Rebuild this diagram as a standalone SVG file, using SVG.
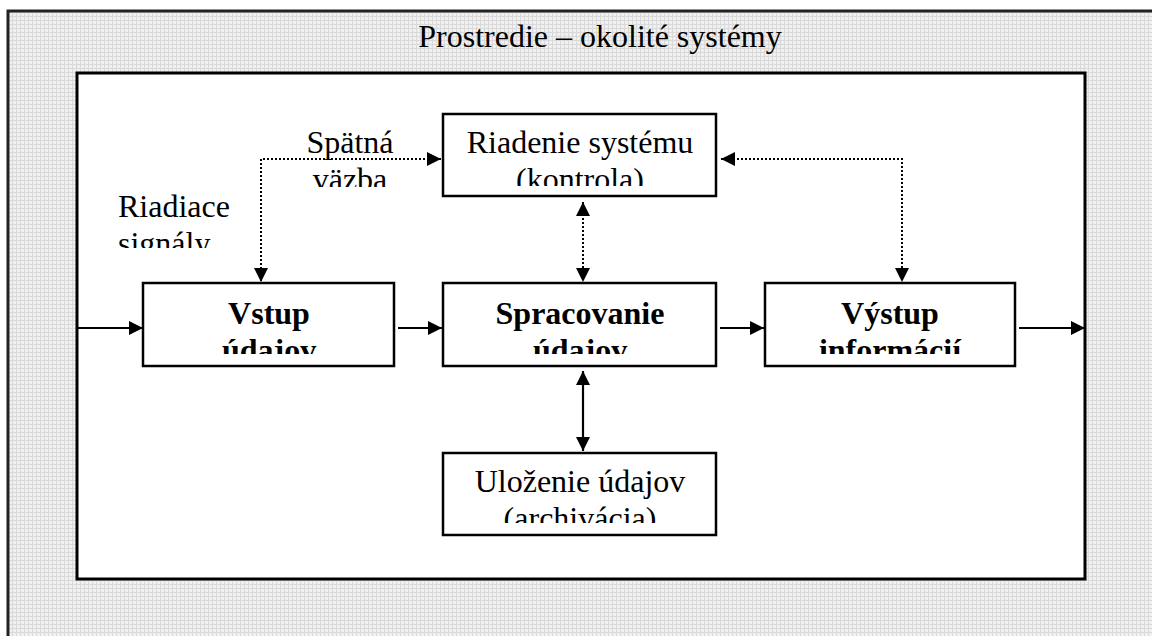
<svg xmlns="http://www.w3.org/2000/svg" width="1152" height="636" viewBox="0 0 1152 636">
<defs>
<pattern id="grid" width="4" height="4" patternUnits="userSpaceOnUse">
<rect width="4" height="4" fill="#eeeeee"/>
<rect x="0" y="0" width="4" height="1" fill="#dadada"/>
<rect x="0" y="0" width="1" height="4" fill="#dadada"/>
<rect x="2" y="2" width="1" height="1" fill="#f8f8f8"/>
</pattern>
<marker id="ah" viewBox="0 0 14 14" refX="14" refY="7" markerWidth="14" markerHeight="14" markerUnits="userSpaceOnUse" orient="auto-start-reverse">
<path d="M0,0 L14,7 L0,14 Z" fill="#000"/>
</marker>
<clipPath id="cR"><rect x="446" y="117" width="267" height="69"/></clipPath>
<clipPath id="cV"><rect x="146" y="286" width="245" height="68"/></clipPath>
<clipPath id="cS"><rect x="446" y="286" width="267" height="68"/></clipPath>
<clipPath id="cO"><rect x="768" y="286" width="244" height="68"/></clipPath>
<clipPath id="cU"><rect x="446" y="456" width="267" height="67"/></clipPath>
<clipPath id="cF"><rect x="290" y="120" width="120" height="67"/></clipPath>
<clipPath id="cG"><rect x="110" y="180" width="130" height="68"/></clipPath>
</defs>
<style>
.box{fill:#fff;stroke:#000;stroke-width:2.5}
.t{font-family:"Liberation Serif","Times New Roman",serif;font-size:32px;fill:#000}
.c{text-anchor:middle}
.b{font-weight:bold}
.ln{fill:none;stroke:#000;stroke-width:2.2}
.dot{fill:none;stroke:#000;stroke-width:2;stroke-dasharray:2 2}
</style>
<rect x="8" y="11" width="1200" height="700" fill="url(#grid)" stroke="#222" stroke-width="3"/>
<text class="t c" x="600" y="47">Prostredie – okolité systémy</text>
<rect x="77" y="73" width="1008" height="506" fill="#fff" stroke="#000" stroke-width="3"/>

<g id="connectors">
<line class="ln" x1="77" y1="328" x2="143" y2="328" marker-end="url(#ah)"/>
<line class="ln" x1="398" y1="328" x2="442" y2="328" marker-end="url(#ah)"/>
<line class="ln" x1="720" y1="328" x2="764" y2="328" marker-end="url(#ah)"/>
<line class="ln" x1="1019" y1="328" x2="1085" y2="328" marker-end="url(#ah)"/>
<line class="ln" x1="583" y1="371" x2="583" y2="451" marker-start="url(#ah)" marker-end="url(#ah)"/>
<line class="dot" x1="583" y1="202" x2="583" y2="282" marker-start="url(#ah)" marker-end="url(#ah)"/>
<polyline class="dot" points="441,159 261,159 261,282" marker-start="url(#ah)" marker-end="url(#ah)"/>
<polyline class="dot" points="721,159 902,159 902,282" marker-start="url(#ah)" marker-end="url(#ah)"/>
</g>

<g id="label-spatna" clip-path="url(#cF)">
<text class="t c" x="350" y="153">Spätná</text>
<text class="t c" x="350" y="190">väzba</text>
</g>
<g id="label-riadiace" clip-path="url(#cG)">
<text class="t" x="118" y="217">Riadiace</text>
<text class="t" x="118" y="254">signály</text>
</g>

<g id="riadenie">
<rect class="box" x="443" y="114" width="273" height="82"/>
<g clip-path="url(#cR)">
<text class="t c" x="580" y="153">Riadenie systému</text>
<text class="t c" x="580" y="190">(kontrola)</text>
</g>
</g>
<g id="vstup">
<rect class="box" x="143" y="283" width="251" height="83"/>
<g clip-path="url(#cV)">
<text class="t c b" x="269" y="324">Vstup</text>
<text class="t c b" x="269" y="361">údajov</text>
</g>
</g>
<g id="spracovanie">
<rect class="box" x="443" y="283" width="273" height="83"/>
<g clip-path="url(#cS)">
<text class="t c b" x="580" y="324">Spracovanie</text>
<text class="t c b" x="580" y="361">údajov</text>
</g>
</g>
<g id="vystup">
<rect class="box" x="765" y="283" width="250" height="83"/>
<g clip-path="url(#cO)">
<text class="t c b" x="890" y="324">Výstup</text>
<text class="t c b" x="890" y="361">informácií</text>
</g>
</g>
<g id="ulozenie">
<rect class="box" x="443" y="453" width="273" height="82"/>
<g clip-path="url(#cU)">
<text class="t c" x="580" y="492">Uloženie údajov</text>
<text class="t c" x="580" y="529">(archivácia)</text>
</g>
</g>
</svg>
